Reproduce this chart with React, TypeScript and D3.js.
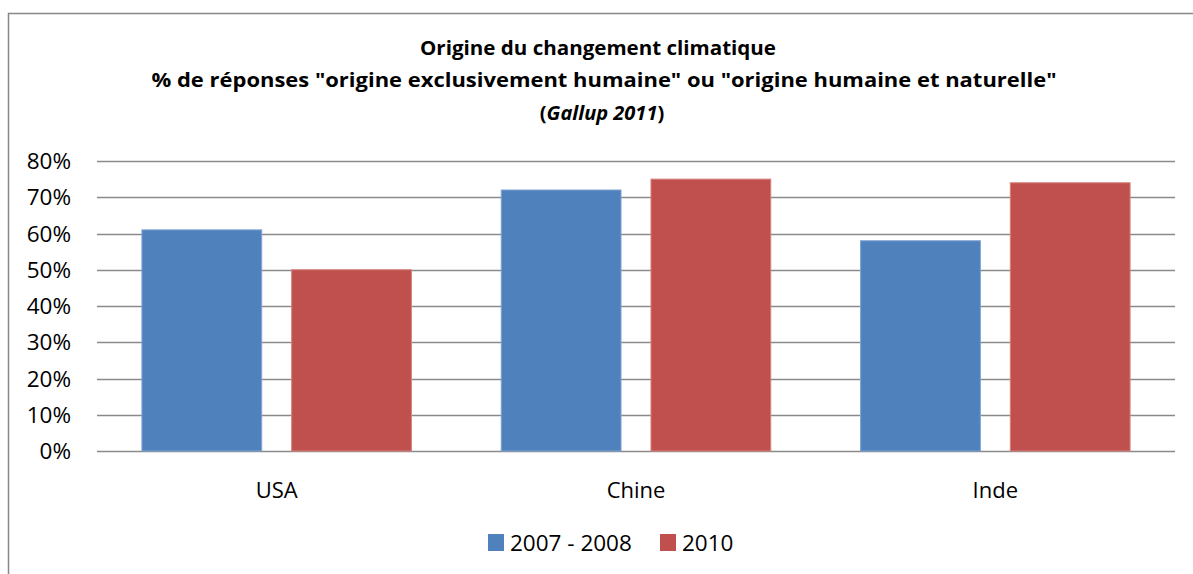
import * as d3 from "d3";

const categories = ["USA", "Chine", "Inde"];
const seriesNames = ["2007 - 2008", "2010"];
const values2007 = [0.61, 0.72, 0.58];
const values2010 = [0.5, 0.75, 0.74];
const yTicks = [0, 0.1, 0.2, 0.3, 0.4, 0.5, 0.6, 0.7, 0.8];
const colors = ["#4F81BD", "#C0504D"];
const edgeColors = ["#7FA3D3", "#D7827F"];

const W = 1193;
const H = 574;
const plot = { left: 97, right: 1175, top: 161, bottom: 451 };
const font = "'Open Sans', 'Liberation Sans', sans-serif";

export default function App() {
  const x0 = d3.scaleBand<string>().domain(categories).range([plot.left, plot.right]).padding(0);
  const x1 = d3
    .scaleBand<string>()
    .domain(seriesNames)
    .range([0, x0.bandwidth()])
    .paddingInner(0.2)
    .paddingOuter(0.3);
  const y = d3.scaleLinear().domain([0, 0.8]).range([plot.bottom, plot.top]);
  const fmt = d3.format(".0%");

  const series = [values2007, values2010];

  return (
    <svg
      width={W}
      height={H}
      style={{ position: "absolute", left: 0, top: 0, background: "#fff" }}
    >
      {/* frame, right and bottom edges fall outside the picture */}
      <rect x={8.5} y={13.5} width={1250} height={620} fill="none" stroke="#878787" strokeWidth={1.5} />

      {/* title */}
      <g fontFamily={font} fontWeight="bold" fontSize={20} textAnchor="middle" fill="#000">
        <text x={598} y={55} textLength={356} lengthAdjust="spacingAndGlyphs">
          Origine du changement climatique
        </text>
        <text x={604} y={87} textLength={905} lengthAdjust="spacingAndGlyphs">
          % de réponses "origine exclusivement humaine" ou "origine humaine et naturelle"
        </text>
        <text x={602} y={120}>
          (<tspan fontStyle="italic">Gallup 2011</tspan>)
        </text>
      </g>

      {/* gridlines */}
      {yTicks.map((t) => (
        <line
          key={t}
          x1={plot.left}
          x2={plot.right}
          y1={Math.round(y(t)) + 0.5}
          y2={Math.round(y(t)) + 0.5}
          stroke="#8a8a8a"
          strokeWidth={1.5}
        />
      ))}

      {/* y tick labels */}
      <g fontFamily={font} fontSize={22.5} textAnchor="end" fill="#000">
        {yTicks.map((t) => (
          <text key={t} x={71} y={y(t)} dy="0.36em">
            {fmt(t)}
          </text>
        ))}
      </g>

      {/* bars */}
      {categories.map((c, i) => (
        <g key={c} transform={`translate(${x0(c)},0)`}>
          {seriesNames.map((s, j) => (
            <rect
              key={s}
              x={x1(s)}
              y={y(series[j][i])}
              width={x1.bandwidth()}
              height={y(0) - y(series[j][i])}
              fill={colors[j]}
              stroke={edgeColors[j]}
              strokeWidth={1}
            />
          ))}
        </g>
      ))}

      {/* category labels */}
      <g fontFamily={font} fontSize={22} textAnchor="middle" fill="#000">
        {categories.map((c) => (
          <text key={c} x={(x0(c) as number) + x0.bandwidth() / 2} y={498}>
            {c}
          </text>
        ))}
      </g>

      {/* legend */}
      <g fontFamily={font} fontSize={22.5} fill="#000">
        <rect x={488} y={534} width={16} height={17} fill={colors[0]} />
        <text x={510} y={551}>{seriesNames[0]}</text>
        <rect x={660} y={534} width={16} height={17} fill={colors[1]} />
        <text x={682} y={551}>{seriesNames[1]}</text>
      </g>
    </svg>
  );
}
